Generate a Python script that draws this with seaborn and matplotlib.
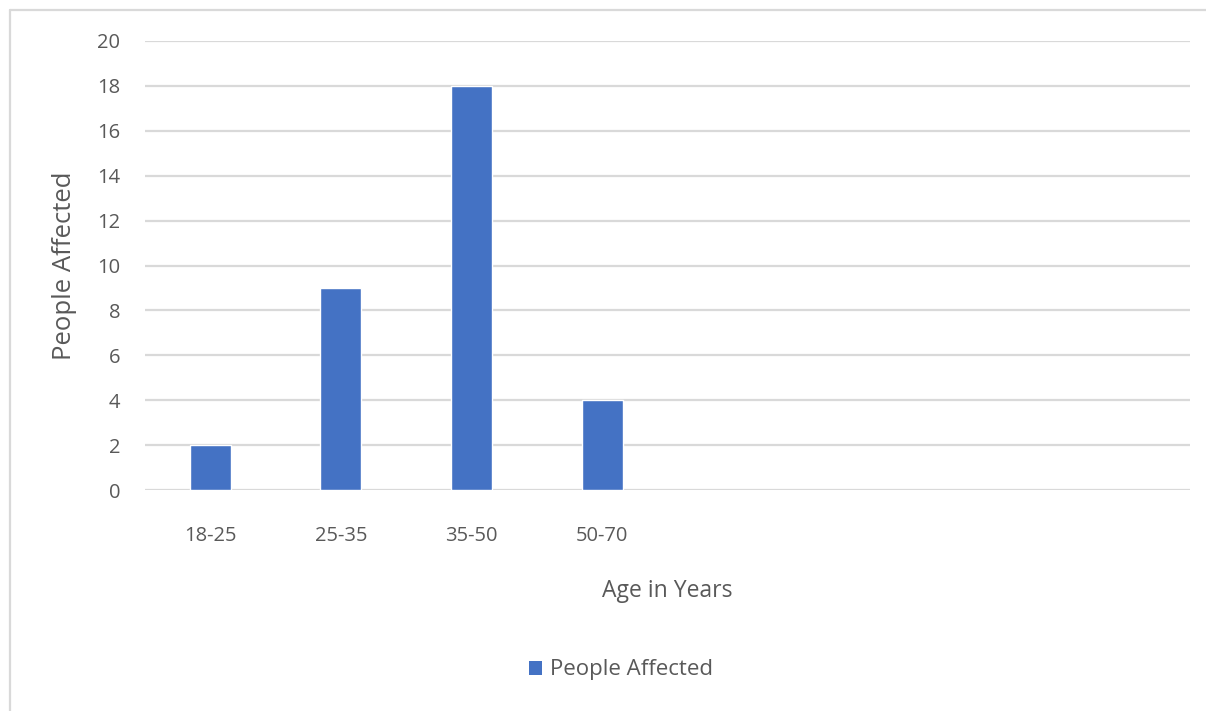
import matplotlib
matplotlib.use("Agg")
import matplotlib.pyplot as plt
from matplotlib.lines import Line2D
from matplotlib.patches import Patch
import seaborn as sns
import pandas as pd

# Data
age_groups = ["18-25", "25-35", "35-50", "50-70"]
people_affected = [2, 9, 18, 4]
y_ticks = [0, 2, 4, 6, 8, 10, 12, 14, 16, 18, 20]
n_slots = 8  # category axis keeps room for eight groups

bar_color = "#4472C4"
grid_color = "#D9D9D9"
text_color = "#595959"

sns.set_theme(style="white")
plt.rcParams["font.family"] = ["Open Sans", "DejaVu Sans"]

W, H = 1206, 711
fig = plt.figure(figsize=(W / 100, H / 100), dpi=100)
ax = fig.add_axes([145 / W, 1 - 490 / H, (1190 - 145) / W, (490 - 41) / H])

df = pd.DataFrame({"Age in Years": age_groups, "People Affected": people_affected})
sns.barplot(data=df, x="Age in Years", y="People Affected", color=bar_color,
            width=0.313, saturation=1, ax=ax, zorder=3)

ax.set_xlim(-0.5, n_slots - 0.5)
ax.set_ylim(0, 20)
ax.set_yticks(y_ticks)
ax.set_yticklabels([str(t) for t in y_ticks])
for v in y_ticks:
    ax.axhline(v, color=grid_color, lw=1.6, zorder=1)

for s in ax.spines.values():
    s.set_visible(False)
ax.tick_params(axis="both", length=0, colors=text_color, labelsize=14.5)
ax.tick_params(axis="y", pad=18)
ax.tick_params(axis="x", pad=26)

ax.set_xlabel("Age in Years", fontsize=16.5, color=text_color, labelpad=24)
ax.set_ylabel("People Affected", fontsize=18.5, color=text_color, labelpad=14)

# Legend
handle = Patch(facecolor=bar_color, edgecolor="none")
fig.legend([handle], ["People Affected"], loc="center", bbox_to_anchor=(621 / W, 1 - 670 / H),
           frameon=False, fontsize=16, labelcolor=text_color, handlelength=0.6,
           handleheight=0.6, handletextpad=0.35)

# Chart area border
fig.add_artist(Line2D([10 / W, 1.0], [1 - 10 / H, 1 - 10 / H], transform=fig.transFigure,
                      color=grid_color, lw=1.6))
fig.add_artist(Line2D([10 / W, 10 / W], [1 - 10 / H, 0.0], transform=fig.transFigure,
                      color=grid_color, lw=1.6))

fig.savefig("out.png", dpi=100)
